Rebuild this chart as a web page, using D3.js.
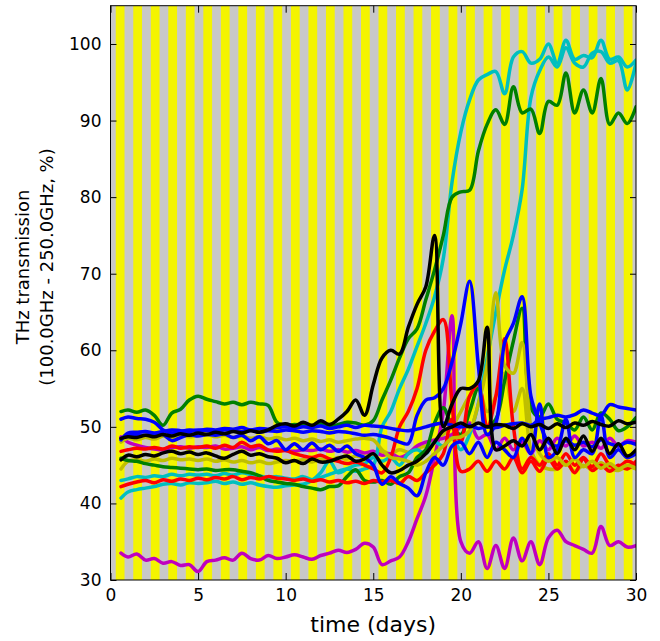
<!DOCTYPE html>
<html>
<head>
<meta charset="utf-8">
<script src="https://cdnjs.cloudflare.com/ajax/libs/d3/7.8.5/d3.min.js"></script>
<style>
  body { margin: 0; background: #fff; }
  text { font-family: "DejaVu Sans", sans-serif; fill: #000; }
</style>
</head>
<body>
<div id="chart"></div>
<script>
// sample times (days)
var times = [0.6, 1, 1.5, 2, 2.5, 3, 3.5, 4, 4.5, 5,
             5.5, 6, 6.5, 7, 7.5, 8, 8.5, 9, 9.5, 10,
             10.5, 11, 11.5, 12, 12.5, 13, 13.5, 14, 14.5, 15,
             15.5, 16, 16.5, 17, 17.5, 18, 18.5, 19, 19.5, 20,
             20.5, 21, 21.5, 22, 22.5, 23, 23.5, 24, 24.5, 25,
             25.5, 26, 26.5, 27, 27.5, 28, 28.5, 29, 29.5, 30];

var xTicks = [0, 5, 10, 15, 20, 25, 30];
var yTicks = [30, 40, 50, 60, 70, 80, 90, 100];

// light cycle: lights on from +0.3 to +0.8 of each day
var lightsOn = 0.3, lightsOff = 0.8;

var cyanA = [43, 43.2, 43.5, 43.4, 43.6, 43.5, 43.8, 43.6, 43.8, 43.7,
             43.8, 43.6, 43.9, 43.7, 44, 43.8, 43.6, 43.4, 43.5, 43.3,
             43.2, 43.5, 43.1, 43.4, 43.8, 44.2, 44.5, 44.2, 44.5, 45,
             50, 52, 55, 57.5, 60.5, 63.5, 67, 72, 82, 88.5,
             92.7, 95.3, 96, 96.4, 93.5, 98.3, 99, 97.5, 98, 100,
             97.5, 100.5, 98, 98.5, 98.2, 100.5, 98, 98.3, 97, 97.9];
var cyanB = [40.7, 41.5, 41.8, 42, 42.2, 42.5, 42.6, 42.4, 42.7, 42.6,
             42.7, 42.9, 42.6, 42.8, 42.5, 42.7, 42.4, 42.2, 42.1, 42.3,
             42.4, 42.5, 43, 44, 45.5, 44, 44.5, 45, 45.2, 46,
             45.5, 46, 45, 46.5, 47, 46.5, 48, 47.5, 48.5, 47,
             49, 53, 59, 65, 70.5, 75, 81, 93, 96.5, 98.3,
             97, 99.5, 97.5, 97, 98.8, 99, 97.5, 97.8, 94, 97.5];
var greenA = [52, 52.2, 51.9, 52.2, 51.5, 50.2, 51.8, 52.3, 53.5, 54,
              53.6, 53.3, 53, 53.2, 52.9, 53.2, 53, 52.8, 50.6, 50.2,
              50.3, 50.2, 50, 50.4, 50, 50.3, 50.6, 50.5, 50.2, 50.8,
              53.5, 56.1, 59, 61.5, 62.8, 66.6, 70.5, 75, 80, 80.7,
              80.9, 86, 89.5, 91.4, 89.5, 94.4, 91, 91.5, 88.3, 92.5,
              92, 96.2, 91, 94, 91, 95.5, 89.5, 91, 89.6, 91.8];
var greenB = [45.9, 45.6, 45.5, 45.2, 45, 44.8, 44.7, 44.6, 44.5, 44.4,
              44.5, 44.3, 44.4, 44.4, 44.2, 44, 43.6, 43, 42.8, 42.6,
              42.5, 42.2, 42, 41.8, 42.2, 42.3, 43.5, 44.4, 43, 42.8,
              43, 42.5, 43.5, 44, 46, 47, 50.5, 52.5, 50, 49,
              52, 55, 50, 51, 56, 61.2, 65.5, 52.5, 51.3, 53,
              51, 50.5, 49.6, 51.3, 49.6, 51.8, 51, 49.5, 50, 51.2];
var blueA = [51, 51.3, 51.1, 51, 50.6, 49.6, 49.2, 49.4, 49.6, 49.5,
             49.7, 49.6, 49.8, 49.7, 49.9, 49.6, 49.8, 49.7, 49.9, 50,
             49.8, 50, 49.9, 50.1, 49.8, 50, 50.2, 49.9, 50.2, 50.1,
             50, 49.8, 49.6, 49.5, 49.7, 50, 50.3, 50.5, 50.2, 50,
             50.2, 49.8, 50, 49.9, 50.2, 50.4, 50.5, 50.2, 51, 51.2,
             51.5, 51.3, 51.6, 52.2, 51.8, 51.5, 52.9, 52.6, 52.4, 52.2];
var blueB = [48.5, 48.8, 49, 48.9, 49.1, 49, 48.2, 48.6, 49, 48.8,
             49, 48.9, 49.1, 48.6, 48.9, 48.2, 48.7, 47.8, 48.2, 47,
             47.8, 47, 47.9, 47, 47.6, 46.8, 47.5, 46.5, 46, 45,
             42.5, 43.5, 42.6, 42, 41, 44, 46, 45, 47.5, 48,
             46.5, 48, 46, 48, 47, 46, 48.5, 46.5, 53, 46,
             47, 51, 46, 47, 46.5, 51.5, 46, 47, 46, 46.5];
var blueC = [48.3, 49.2, 49.3, 49.4, 49.2, 49.4, 49.6, 49.5, 49.4, 49.6,
             49.5, 49.4, 49.6, 49.5, 49.4, 49.6, 49.3, 49.5, 49.4, 49.6,
             49.5, 49.3, 49.5, 49.4, 49.2, 49.4, 49.3, 49.1, 48.9, 49,
             48.8, 48.5, 48, 47.8, 51.5, 53.5, 53.8, 55, 58.5, 63.5,
             69, 58, 49, 50.5, 61, 63.5, 67, 54, 50.5, 48,
             47.5, 48.2, 47.6, 48, 47.4, 48.3, 47.8, 47.5, 48, 47.7];
var redA = [46.8, 47, 47.2, 47.1, 47.3, 47.1, 47.5, 47.2, 47.4, 47.3,
            47.5, 47.2, 47.6, 47.3, 48, 47.4, 47.6, 47, 46.8, 46.9,
            46.5, 46.2, 46, 46.3, 45.8, 45.5, 45.2, 45.4, 45, 44.5,
            44, 46, 50, 52, 55, 60, 62.5, 64, 53, 44.2,
            44.5, 45.5, 44.2, 45.5, 44.5, 46, 44, 45.5, 44.2, 45.8,
            44.5, 45.5, 44, 45.8, 44.3, 45, 44.2, 45, 44.5, 45.5];
var redB = [42.2, 42.5, 42.8, 43, 42.7, 43.1, 42.9, 43.2, 43, 43.3,
            43.1, 43.4, 43.2, 43.5, 43.1, 43.4, 43.2, 43.5, 43.3, 43.2,
            43, 43.2, 42.9, 43.1, 42.8, 43, 42.7, 42.9, 42.6, 43,
            42.8, 43, 42.6, 43.5, 43, 44, 45, 46.5, 51, 48,
            54, 55.5, 50, 54, 61.5, 50, 44.5, 46, 45, 46.5,
            45, 46.5, 45, 46, 44.8, 46.5, 45, 44.8, 45.5, 45];
var magentaLow = [33.5, 33, 33.4, 32.6, 32.8, 32.2, 32.4, 31.9, 32, 31.1,
                  32.4, 32.6, 32.9, 32.6, 33.5, 32.8, 32.6, 33.2, 32.8, 33,
                  33.3, 33, 32.7, 33.2, 33.5, 33.9, 33.6, 34, 34.8, 34.3,
                  32, 32.5, 33, 35, 38, 41, 46, 52, 64.5, 35,
                  33.5, 35, 31.5, 34.5, 31.5, 35.5, 32.5, 35, 32, 35.5,
                  36.5, 35, 34.5, 34, 33.5, 37, 34.5, 35, 34.3, 34.5];
var magentaHigh = [48.7, 48, 47.6, 47.3, 47.1, 47, 47.3, 47.4, 47.2, 47.4,
                   47.3, 47.5, 47.1, 47.2, 47.4, 47, 47.3, 46.9, 47.1, 46.9,
                   46.8, 47, 46.9, 47.1, 46.8, 47, 46.7, 46.9, 46.6, 46.8,
                   46.3, 46.5, 46, 46.5, 47.5, 48, 48.3, 48.5, 49, 50,
                   50.5, 48.5, 49, 47, 48.5, 47, 48, 46.5, 48.2, 47,
                   48.5, 47.5, 48.8, 47.5, 48, 47.2, 48.5, 47.5, 48.2, 48];
var yellowA = [48, 48.5, 48.3, 48.6, 48.4, 48.8, 48.6, 48.9, 48.7, 48.9,
               49, 48.7, 48.9, 48.6, 48.8, 48.5, 48.7, 48.4, 48.6, 48.3,
               48.5, 48.2, 48.4, 48.1, 48.3, 48, 48.2, 48.4, 48.5, 48.3,
               47, 46, 45.8, 45.5, 45, 45.5, 46.5, 47.5, 48.5, 48.7,
               49.5, 53, 58, 67.5, 58, 57, 61, 50, 46.5, 45.5,
               46, 45, 45.8, 44.8, 45.5, 44.6, 45.2, 44.5, 45, 44.6];
var yellowB = [44.5, 45.5, 45.7, 45.5, 45.8, 45.6, 45.9, 45.7, 45.8, 45.6,
               45.8, 45.5, 45.7, 45.4, 45.6, 45.3, 45.5, 45.2, 45.4, 45.6,
               45.5, 45.7, 45.4, 45.8, 45.6, 46, 45.8, 46.2, 46, 46.5,
               46.8, 46.5, 47, 46.7, 47.2, 47.5, 48, 49, 50, 52,
               54, 55, 52, 54, 57, 52, 55, 47, 45, 44.5,
               44.5, 45.2, 44.2, 45, 44.4, 45.3, 44.5, 44.3, 44.8, 44.5];
var blackA = [48.5, 48.7, 48.6, 48.9, 48.7, 49, 48.8, 49.1, 48.9, 49.2,
              49, 49.3, 49.1, 49.4, 49.2, 49.5, 49.3, 49.6, 50.2, 50.4,
              50.1, 50.6, 50.2, 50.8, 50.3, 51, 52, 53.5, 51.5, 55.5,
              59, 60, 59.5, 63, 66, 68.3, 75, 50, 53, 55,
              55, 56, 63, 47, 47.5, 48.2, 47.5, 49, 47, 48.5,
              46.5, 48.5, 47, 48.8, 46.8, 48.5, 46.5, 47.8, 46.2, 47];
var blackB = [45.7, 46.3, 46.1, 46.4, 46.2, 46.6, 46.8, 46.5, 46.7, 46.4,
              46.6, 46.2, 45.9, 46.4, 46.8, 46.3, 46.5, 46.1, 45.9, 45.3,
              45.6, 45.2, 45.8, 45.4, 45.5, 45.9, 46.2, 45.5, 45.8, 46.5,
              45, 44, 44.3, 45, 45.5, 46.5, 48, 49.5, 50, 50.5,
              50, 50.5, 50, 50.3, 50.2, 49.8, 50.4, 50, 50.3, 49.8,
              50.4, 49.9, 50.5, 50.2, 50.7, 50.3, 50.1, 50.8, 50.4, 50.6];

// drawing order, later ones on top
var series = [
    { color: "#bfbf00", values: yellowB },
    { color: "#bf00bf", values: magentaHigh },
    { color: "#bf00bf", values: magentaLow },
    { color: "#00bfbf", values: cyanB },
    { color: "#00bfbf", values: cyanA },
    { color: "#008000", values: greenB },
    { color: "#008000", values: greenA },
    { color: "#ff0000", values: redB },
    { color: "#ff0000", values: redA },
    { color: "#bfbf00", values: yellowA },
    { color: "#0000ff", values: blueA },
    { color: "#0000ff", values: blueB },
    { color: "#0000ff", values: blueC },
    { color: "#000000", values: blackB },
    { color: "#000000", values: blackA }
];

var W = 660, H = 641;
var plotLeft = 110.5, plotRight = 636, plotTop = 5.7, plotBottom = 580;

var x = d3.scaleLinear().domain([0, 30]).range([plotLeft, plotRight]);
var y = d3.scaleLinear().domain([30, 105]).range([plotBottom, plotTop]);

var svg = d3.select("#chart").append("svg").attr("width", W).attr("height", H);

svg.append("defs").append("clipPath").attr("id", "plot")
    .append("rect").attr("x", plotLeft).attr("y", plotTop)
    .attr("width", plotRight - plotLeft).attr("height", plotBottom - plotTop);

var plot = svg.append("g").attr("clip-path", "url(#plot)");

// dark background, then light-on stripes
plot.append("rect").attr("x", plotLeft).attr("y", plotTop)
    .attr("width", plotRight - plotLeft).attr("height", plotBottom - plotTop)
    .attr("fill", "#c8c8c8");

plot.selectAll(".light").data(d3.range(0, 30)).enter().append("rect")
    .attr("class", "light")
    .attr("x", function (d) { return x(d + lightsOn); })
    .attr("y", plotTop)
    .attr("width", function (d) { return x(d + lightsOff) - x(d + lightsOn); })
    .attr("height", plotBottom - plotTop)
    .attr("fill", "#f4f400");

var line = d3.line()
    .x(function (d, i) { return x(times[i]); })
    .y(function (d) { return y(d); })
    .curve(d3.curveCatmullRom.alpha(0.5));

plot.selectAll(".series").data(series).enter().append("path")
    .attr("class", "series")
    .attr("d", function (s) { return line(s.values); })
    .attr("fill", "none")
    .attr("stroke", function (s) { return s.color; })
    .attr("stroke-width", 3.5)
    .attr("stroke-linejoin", "round")
    .attr("stroke-linecap", "round");

// axes, ticks pointing inward on all four sides
function style(g) {
    g.select(".domain").remove();
    g.selectAll(".tick line").attr("stroke", "#000").attr("stroke-width", 1);
    g.selectAll(".tick text").attr("font-size", 17).attr("font-family", "DejaVu Sans").attr("fill", "#000");
}

svg.append("g").attr("transform", "translate(0," + plotBottom + ")")
    .call(d3.axisBottom(x).tickValues(xTicks).tickSize(-7).tickPadding(9))
    .call(style);
svg.append("g").attr("transform", "translate(0," + plotTop + ")")
    .call(d3.axisTop(x).tickValues(xTicks).tickSize(-7).tickFormat(""))
    .call(style);
svg.append("g").attr("transform", "translate(" + plotLeft + ",0)")
    .call(d3.axisLeft(y).tickValues(yTicks).tickSize(-6).tickPadding(9))
    .call(style);
svg.append("g").attr("transform", "translate(" + plotRight + ",0)")
    .call(d3.axisRight(y).tickValues(yTicks).tickSize(-6).tickFormat(""))
    .call(style);

svg.append("rect").attr("x", plotLeft).attr("y", plotTop)
    .attr("width", plotRight - plotLeft).attr("height", plotBottom - plotTop)
    .attr("fill", "none").attr("stroke", "#000").attr("stroke-width", 1);

svg.append("text")
    .attr("x", (plotLeft + plotRight) / 2).attr("y", 632)
    .attr("text-anchor", "middle").attr("font-size", 22)
    .text("time (days)");

svg.append("text")
    .attr("transform", "translate(29,267) rotate(-90)")
    .attr("text-anchor", "middle").attr("font-size", 18)
    .text("THz transmission");
svg.append("text")
    .attr("transform", "translate(53,267) rotate(-90)")
    .attr("text-anchor", "middle").attr("font-size", 18)
    .text("(100.0GHz - 250.0GHz, %)");
</script>
</body>
</html>
